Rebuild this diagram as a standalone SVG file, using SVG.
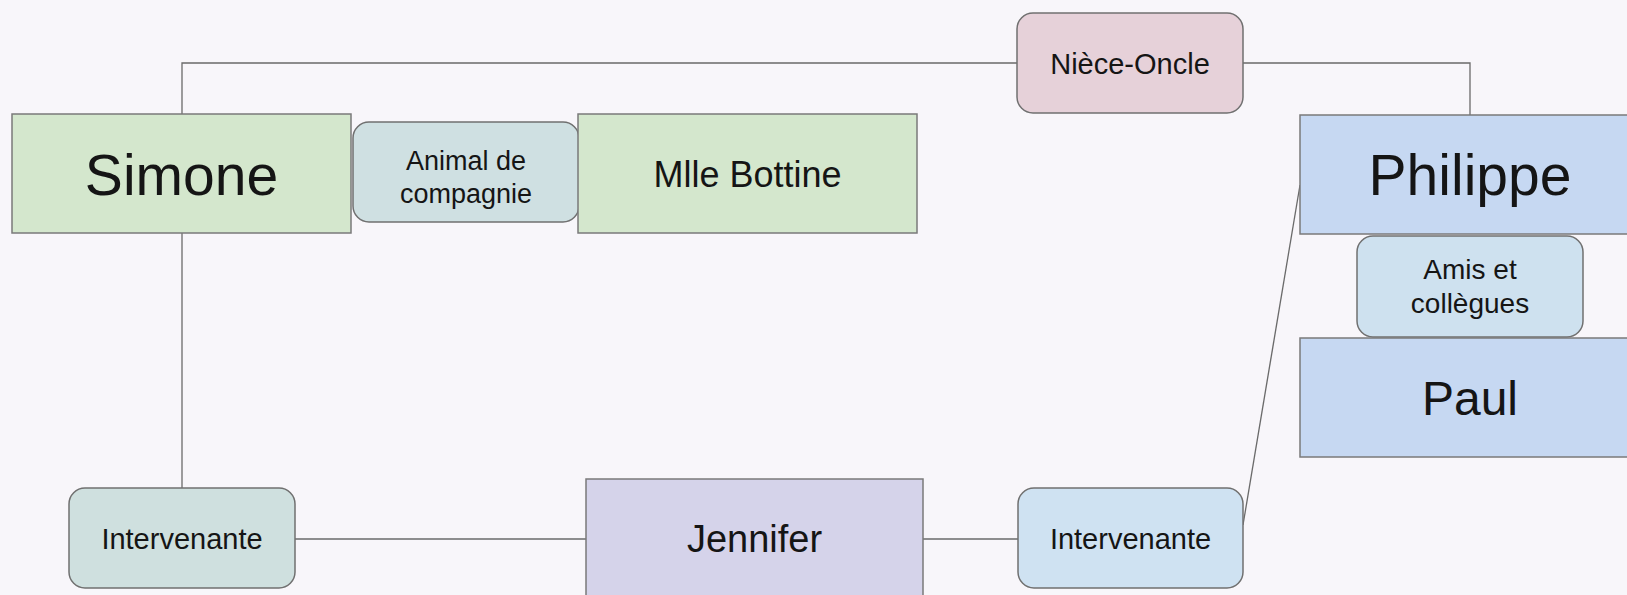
<svg xmlns="http://www.w3.org/2000/svg" width="1627" height="595" viewBox="0 0 1627 595">
<style>
.box{stroke:#7a7a7a;stroke-width:1.5}
.pill{stroke:#707070;stroke-width:1.5}
.conn{fill:none;stroke:#6a6a6a;stroke-width:1.3}
text{font-family:"Liberation Sans",Arial,sans-serif;fill:#151515;text-anchor:middle}
.big{font-size:57px}
.mid{font-size:36px}
.sm{font-size:28px}
.iv{font-size:29px}
</style>
<rect x="0" y="0" width="1627" height="595" fill="#f8f6fa"/>
<g id="connectors">
<polyline class="conn" points="182,114 182,63 1017,63"/>
<polyline class="conn" points="1243,63 1470,63 1470,115"/>
<line class="conn" x1="182" y1="233" x2="182" y2="488"/>
<line class="conn" x1="295" y1="539" x2="586" y2="539"/>
<line class="conn" x1="923" y1="539" x2="1018" y2="539"/>
<line class="conn" x1="1243" y1="525" x2="1300" y2="185"/>
</g>
<g id="simone">
<rect class="box" x="12" y="114" width="339" height="119" fill="#d4e7cd"/>
<text class="big" x="181.5" y="195">Simone</text>
</g>
<g id="animal">
<rect class="pill" x="353" y="122" width="226" height="100" rx="16" fill="#cfe0e2"/>
<text x="466" y="170" style="font-size:27px">Animal de</text>
<text x="466" y="203" style="font-size:27px">compagnie</text>
</g>
<g id="mlle-bottine">
<rect class="box" x="578" y="114" width="339" height="119" fill="#d4e7cd"/>
<text class="mid" x="747.5" y="187">Mlle Bottine</text>
</g>
<g id="niece-oncle">
<rect class="pill" x="1017" y="13" width="226" height="100" rx="16" fill="#e6d1d9"/>
<text class="iv" x="1130" y="74">Nièce-Oncle</text>
</g>
<g id="philippe">
<rect class="box" x="1300" y="115" width="345" height="119" fill="#c6d8f2"/>
<text class="big" x="1470" y="195">Philippe</text>
</g>
<g id="amis">
<rect class="pill" x="1357" y="236" width="226" height="101" rx="16" fill="#cee1ef"/>
<text class="sm" x="1470" y="279">Amis et</text>
<text class="sm" x="1470" y="313">collègues</text>
</g>
<g id="paul">
<rect class="box" x="1300" y="338" width="345" height="119" fill="#c6d8f2"/>
<text class="big" x="1470" y="415" style="font-size:48px">Paul</text>
</g>
<g id="intervenante-left">
<rect class="pill" x="69" y="488" width="226" height="100" rx="16" fill="#cfe0df"/>
<text class="iv" x="182" y="549">Intervenante</text>
</g>
<g id="jennifer">
<rect class="box" x="586" y="479" width="337" height="125" fill="#d5d3ea"/>
<text class="mid" x="754.5" y="552" style="font-size:38px">Jennifer</text>
</g>
<g id="intervenante-right">
<rect class="pill" x="1018" y="488" width="225" height="100" rx="16" fill="#cfe2f2"/>
<text class="iv" x="1130.5" y="549">Intervenante</text>
</g>
</svg>
